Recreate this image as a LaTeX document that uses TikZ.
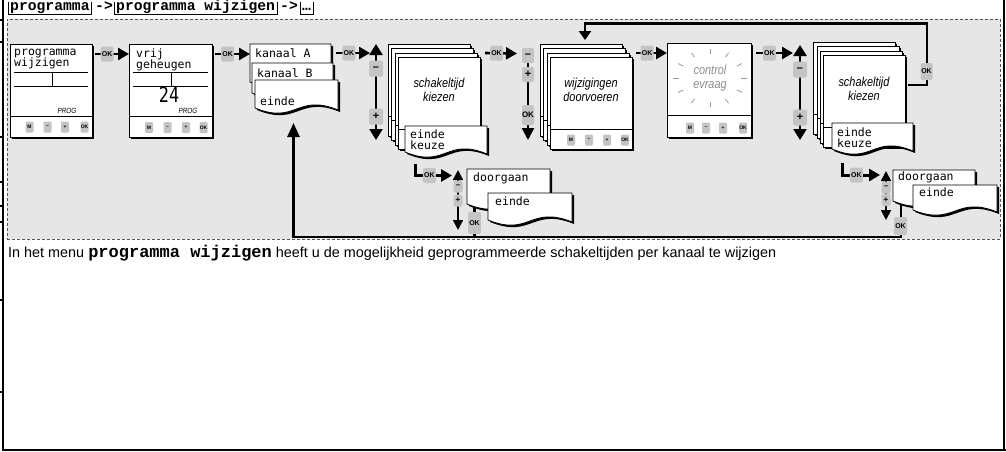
\documentclass[tikz,border=0pt]{standalone}
\usepackage{fontspec}
\usepackage{graphicx}
\setmainfont{Liberation Sans}
\newfontfamily\cour{Liberation Mono}
\newfontfamily\lcd{DejaVu Sans Mono}
\newfontfamily\narrow[FakeStretch=0.84]{Liberation Sans}
\usetikzlibrary{arrows.meta,shadows,calc}
\lineskiplimit=-20pt
\definecolor{bggray}{HTML}{E6E6E6}
\definecolor{btngray}{HTML}{C4C4C4}
\definecolor{raygray}{HTML}{9A9A9A}
\definecolor{dashgray}{HTML}{555555}
\definecolor{txtgray}{HTML}{8C8C8C}
\pgfdeclarelayer{bglayer}
\pgfdeclarelayer{lines}
\pgfsetlayers{bglayer,lines,main}
\tikzset{
  shd/.style={drop shadow={shadow xshift=2pt,shadow yshift=-2pt,opacity=1,fill=black}},
  devbox/.style={draw=black,line width=0.8pt,fill=white,inner sep=0pt,outer sep=0pt,anchor=north west,shd},
  cardbox/.style={devbox,minimum width=82pt,minimum height=92pt},
  wavefill/.style={fill=white,draw=black,line width=0.8pt},
  btn/.style={fill=btngray,rounded corners=1.2pt,minimum width=8pt,minimum height=11pt,inner sep=0pt,font=\fontsize{5}{5}\selectfont\bfseries},
  okbox/.style={fill=btngray,rounded corners=2pt,minimum width=13pt,minimum height=15pt,inner sep=0pt,font=\fontsize{7}{7}\selectfont\bfseries},
  pmbox/.style={fill=btngray,rounded corners=2pt,minimum width=14pt,minimum height=16pt,inner sep=0pt,font=\fontsize{11}{11}\selectfont\bfseries},
  spmbox/.style={fill=btngray,rounded corners=1.5pt,minimum width=9pt,minimum height=12pt,inner sep=0pt,font=\fontsize{8}{8}\selectfont\bfseries},
  okarrow/.style={line width=2.6pt,-{Triangle[length=11pt,width=12pt]}},
  bigline/.style={line width=2.6pt},
  lcdtext/.style={font=\lcd\fontsize{11.5}{11.5}\selectfont,align=left,inner sep=0pt,anchor=north west,execute at begin node={\rule{0pt}{8.5pt}}},
  ittext/.style={font=\narrow\itshape\fontsize{13}{14}\selectfont,align=center,inner sep=0pt,execute at begin node={\rule{0pt}{10pt}}},
  progtext/.style={font=\narrow\itshape\fontsize{7.5}{7.5}\selectfont,inner sep=0pt},
  hdrbox/.style={inner xsep=2pt,inner ysep=0.6pt,text height=8pt,text depth=2.8pt,anchor=base west,font=\cour\bfseries\fontsize{14.7}{14.7}\selectfont},
  hdrframe/.style={line width=1pt},
  hdrtext/.style={inner sep=0pt,text height=8pt,anchor=base west,font=\cour\bfseries\fontsize{14.7}{14.7}\selectfont},
  innerline/.style={line width=0.8pt},
  seltip/.style={line width=2.4pt,{Triangle[length=11pt,width=13pt]}-{Triangle[length=11pt,width=13pt]}},
  sseltip/.style={line width=1.6pt,{Triangle[length=10pt,width=10pt]}-{Triangle[length=10pt,width=10pt]}},
}
\newcommand\wavecard[5]{%
  \node[anchor=north west,minimum width=#4pt,minimum height=#5pt,inner sep=0pt,outer sep=0pt] (#1) at (#2,#3) {};
  \fill[black,transform canvas={xshift=2pt,yshift=-2pt}] (#1.north west) -- (#1.north east) -- ($(#1.south east)+(0,2)$) .. controls ($(#1.south)+(0,-15)$) and ($(#1.south)+(0,17)$) .. (#1.south west) -- cycle;
  \filldraw[wavefill] (#1.north west) -- (#1.north east) -- ($(#1.south east)+(0,2)$) .. controls ($(#1.south)+(0,-15)$) and ($(#1.south)+(0,17)$) .. (#1.south west) -- cycle;
}
\newcommand\stackcard[3]{%
  \node[cardbox] (#1) at (#2,#3) {};
  \draw[innerline] ($(#1.north west)+(0,72)$) -- ($(#1.north east)+(0,72)$);
}
\newcommand\hdrbox[1]{\draw[hdrframe] (#1.north west) |- (#1.south east) -- (#1.north east);}
\begin{document}
\begin{tikzpicture}[x=1pt,y=-1pt]
\useasboundingbox (0,0) rectangle (1006,451);
\begin{pgfonlayer}{bglayer}
\fill[white] (0,0) rectangle (1006,451);
\node[draw=dashgray,fill=bggray,dash pattern=on 3pt off 2pt,line width=0.8pt,minimum width=993pt,minimum height=220pt,inner sep=0pt,anchor=north west] (panel) at (7,19) {};
\end{pgfonlayer}
% frame
\draw[line width=2pt] (3,0) -- (3,449.5) -- (1006,449.5);
\draw[line width=1.5pt] (1004,0) -- (1004,449.5);
\foreach \t in {20,42,137,182,206,222,300,392} \draw[line width=2pt] (0,\t) -- (3,\t);

% header
\node[hdrbox] (h1) at (8,10.5) {programma};
\node[hdrtext] (h2) at (95,10.5) {->};
\node[hdrbox] (h3) at (114,10.5) {programma wijzigen};
\node[hdrtext] (h4) at (280,10.5) {->};
\node[hdrbox] (h5) at (300,10.5) {…};
\hdrbox{h1}\hdrbox{h3}\hdrbox{h5}

% body text
\node[anchor=base west,inner sep=0pt,font=\fontsize{14.4}{14.4}\selectfont] (body) at (8,257) {In het menu {\cour\bfseries\fontsize{17}{17}\selectfont programma wijzigen} heeft u de mogelijkheid geprogrammeerde schakeltijden per kanaal te wijzigen};

% device 1
\node[devbox,minimum width=82pt,minimum height=93pt] (d1) at (10,44) {};
\draw[innerline] (10,116) -- (92,116);
\draw[innerline] (14,72) -- (88,72) (52,72) -- (52,86) (14,86) -- (88,86);
\node[lcdtext] (d1t) at (14,48.5) {programma\\wijzigen};
\node[progtext] (d1p) at (67,111) {PROG};
\node[btn] (d1b1) at (29.5,127) {M};
\node[btn] (d1b2) at (47.5,127) {–};
\node[btn] (d1b3) at (65,127) {+};
\node[btn] (d1b4) at (84.5,127) {OK};

% device 2
\node[devbox,minimum width=83pt,minimum height=93pt] (d2) at (129,44) {};
\draw[innerline] (129,116) -- (212,116);
\draw[innerline] (133,72) -- (208,72) (171,72) -- (171,86) (133,86) -- (208,86);
\node[lcdtext] (d2t) at (136,48.5) {vrij\\geheugen};
\node[font=\lcd\fontsize{21}{21}\selectfont,inner sep=0pt] (d2n) at (169,95) {\scalebox{0.8}[1]{24}};
\node[progtext] (d2p) at (188,111) {PROG};
\node[btn] (d2b1) at (149,127.5) {M};
\node[btn] (d2b2) at (167.5,127.5) {–};
\node[btn] (d2b3) at (186,127.5) {+};
\node[btn] (d2b4) at (203.5,127.5) {OK};

% kanaal cards
\wavecard{kA}{250}{44}{81}{38}
\node[lcdtext] (kAt) at (255,48.5) {kanaal A};
\wavecard{kB}{252}{63}{81}{30}
\node[lcdtext] (kBt) at (257,68.5) {kanaal B};
\wavecard{kE}{255}{80}{83}{28}
\node[lcdtext] (kEt) at (260,96.5) {einde};

% stack 1
\stackcard{s1a}{388}{44}
\stackcard{s1b}{391}{48}
\stackcard{s1c}{395}{53}
\stackcard{s1d}{398}{57}
\node[ittext,anchor=north] (s1t) at (439,78) {schakeltijd\\kiezen};
\wavecard{ek1}{405}{126}{82}{26}
\node[lcdtext] (ek1t) at (410,129.5) {einde\\keuze};

% stack 2
\stackcard{s2a}{540}{44}
\stackcard{s2b}{543}{48}
\stackcard{s2c}{547}{53}
\stackcard{s2d}{550}{57}
\node[ittext,anchor=north] (s2t) at (591,78) {wijzigingen\\doorvoeren};
\node[btn] (s2b1) at (571,140) {M};
\node[btn] (s2b2) at (589,140) {–};
\node[btn] (s2b3) at (607,140) {+};
\node[btn] (s2b4) at (625,140) {OK};

% device 3
\node[devbox,minimum width=84pt,minimum height=94pt] (d3) at (667,43) {};
\draw[innerline] (667,115) -- (751,115);
\foreach \a in {0,30,...,330}
  \draw[raygray,line width=0.8pt] ({710+31*cos(\a)},{78-24*sin(\a)}) -- ({710+37*cos(\a)},{78-29*sin(\a)});
\node[ittext,anchor=north,text=txtgray] (d3t) at (710,65) {control\\evraag};
\node[btn] (d3b1) at (690,128) {M};
\node[btn] (d3b2) at (706,128) {–};
\node[btn] (d3b3) at (723,128) {+};
\node[btn] (d3b4) at (743,128) {OK};

% stack 3
\stackcard{s3a}{813}{42}
\stackcard{s3b}{817}{46}
\stackcard{s3c}{820}{51}
\stackcard{s3d}{823}{55}
\node[ittext,anchor=north] (s3t) at (864,77) {schakeltijd\\kiezen};
\wavecard{ek3}{832}{123}{81}{26}
\node[lcdtext] (ek3t) at (837,127.5) {einde\\keuze};

% bottom cards
\wavecard{dg1}{467}{169}{83}{35}
\node[lcdtext] (dg1t) at (473,172.5) {doorgaan};
\wavecard{ee1}{488}{193}{84}{27}
\node[lcdtext] (ee1t) at (495,196.5) {einde};
\wavecard{dg2}{893}{170}{82}{31}
\node[lcdtext] (dg2t) at (898,171.5) {doorgaan};
\wavecard{ee2}{913}{185}{84}{25}
\node[lcdtext] (ee2t) at (919,187.5) {einde};

\begin{pgfonlayer}{lines}
\coordinate (sel1t) at (376,44); \coordinate (sel1b) at (376,140);
\coordinate (sel2t) at (528,50); \coordinate (sel2b) at (528,140);
\coordinate (sel3t) at (800,45); \coordinate (sel3b) at (800,140);
\coordinate (sel4t) at (458,170); \coordinate (sel4b) at (458,230);
\coordinate (sel5t) at (886,171); \coordinate (sel5b) at (886,220);
\coordinate (sel2in) at (517,53.5);
\coordinate (sel4in) at (452,175.5);
\coordinate (sel5in) at (880,175);
\coordinate (L1) at (415.5,164); \coordinate (L2) at (842,163);
\coordinate (fbc) at (927,23.5); \coordinate (fbt) at (585,40);
\coordinate (rbot) at (293.5,237); \coordinate (rtip) at (293.5,123);
\coordinate (mbot) at (474.5,237);

% OK arrows (top row)
\draw[okarrow] ([shift={(3,10)}]d1.north east) -- ([shift={(0,10)}]d2.north west) node[okbox,pos=0.36] (ok1) {OK};
\draw[okarrow] ([shift={(3,10)}]d2.north east) -- ([shift={(0,10)}]kA.north west) node[okbox,pos=0.36] (ok2) {OK};
\draw[okarrow] ([shift={(5,9)}]kA.north east) -- ([shift={(-6,9)}]sel1t) node[okbox,pos=0.38] (ok3) {OK};
\draw[okarrow] ([shift={(5,-4)}]s1d.north east) -- (sel2in) node[okbox,pos=0.36] (ok4) {OK};
\draw[okarrow] ([shift={(4,-4)}]s2d.north east) -- ([shift={(0,10)}]d3.north west) node[okbox,pos=0.36] (ok5) {OK};
\draw[okarrow] ([shift={(5,10)}]d3.north east) -- ([shift={(-7,8)}]sel3t) node[okbox,pos=0.36] (ok6) {OK};

% selectors
\draw[seltip] (sel1t) -- (sel1b);
\node[pmbox] (sel1m) at (376,68.5) {–};
\node[pmbox] (sel1p) at (376,116.5) {+};
\draw[line width=2.4pt,-{Triangle[length=12pt,width=12pt]}] (sel2t) -- (sel2b);
\node[pmbox,minimum width=12pt,minimum height=15pt] (sel2m) at (528,55.5) {–};
\node[pmbox,minimum width=12pt,minimum height=15pt] (sel2p) at (528,74.5) {+};
\node[okbox,minimum width=12pt,minimum height=20pt,font=\fontsize{8}{8}\selectfont\bfseries] (sel2ok) at (528,115) {OK};
\draw[seltip] (sel3t) -- (sel3b);
\node[pmbox] (sel3m) at (800,69.5) {–};
\node[pmbox] (sel3p) at (800,117.5) {+};

% feedback loop
\draw[bigline,-{Triangle[length=9pt,width=12pt]}] ([shift={(3,30)}]s3d.north east) -| (fbc) -| (fbt);
\node[okbox,minimum width=12pt,minimum height=17pt] (fbok) at (926.5,71.5) {OK};

% bottom L connectors
\draw[okarrow,line width=3pt] (L1) |- (sel4in) node[okbox,pos=0.69] (ok7) {OK};
\draw[sseltip] (sel4t) -- (sel4b);
\node[spmbox] (sel4m) at (458,186.5) {–};
\node[spmbox] (sel4p) at (458,200.5) {+};
\draw[okarrow,line width=3pt] (L2) |- (sel5in) node[okbox,pos=0.69] (ok8) {OK};
\draw[sseltip] (sel5t) -- (sel5b);
\node[spmbox] (sel5m) at (886,187.5) {–};
\node[spmbox] (sel5p) at (886,200) {+};

% return line
\draw[bigline,-{Triangle[length=14pt,width=12pt]}] ([shift={(8,-2)}]dg2.south west) |- (rbot) -- (rtip);
\draw[bigline] ([shift={(7.5,-4)}]dg1.south west) -- (mbot);
\node[okbox,minimum height=22pt] (mok) at (474.5,223) {OK};
\node[okbox,minimum height=18pt] (rok) at (900.5,226) {OK};
\end{pgfonlayer}
\end{tikzpicture}
\end{document}
